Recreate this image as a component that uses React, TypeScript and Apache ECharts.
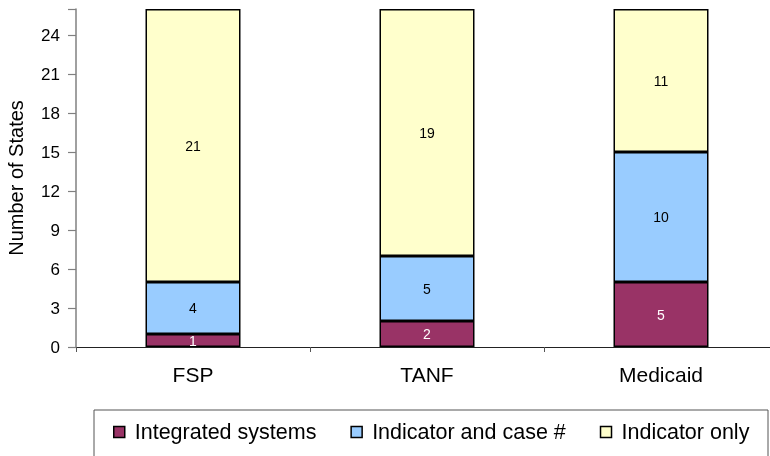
import React, { useEffect, useRef } from "react";
import * as echarts from "echarts";

const categories = ["FSP", "TANF", "Medicaid"];
const integratedSystems = [1, 2, 5];
const indicatorAndCase = [4, 5, 10];
const indicatorOnly = [21, 19, 11];
const yTicks = [0, 3, 6, 9, 12, 15, 18, 21, 24];
const seriesNames = ["Integrated systems", "Indicator and case #", "Indicator only"];

const FONT = "'Liberation Sans', Arial, sans-serif";

export default function App() {
  const ref = useRef<HTMLDivElement>(null);
  useEffect(() => {
    if (!ref.current) return;
    const chart = echarts.init(ref.current, null, { renderer: "svg" });
    const mk = (name: string, data: number[], color: string, labelColor: string) => ({
      name,
      type: "bar",
      stack: "total",
      data,
      barWidth: 95,
      itemStyle: { color, borderColor: "#000", borderWidth: 1.5 },
      label: {
        show: true,
        position: "inside",
        color: labelColor,
        fontSize: 14,
        fontFamily: FONT,
      },
    });
    chart.setOption({
      animation: false,
      textStyle: { fontFamily: FONT },
      grid: { left: 76, top: 9, height: 338, width: 702, containLabel: false, outerBoundsMode: "none" },
      xAxis: {
        type: "category",
        data: categories,
        axisLine: { lineStyle: { color: "#222", width: 1.2 } },
        axisTick: { show: true, length: 5, alignWithLabel: false, lineStyle: { color: "#555" } },
        axisLabel: { color: "#000", fontSize: 21, margin: 17, fontFamily: FONT },
      },
      yAxis: {
        type: "value",
        min: 0,
        max: 26,
        interval: 3,
        name: "Number of States",
        nameLocation: "middle",
        nameGap: 50,
        nameRotate: 90,
        nameTextStyle: { fontSize: 20, color: "#000", fontFamily: FONT },
        splitLine: { show: false },
        axisLine: { show: true, lineStyle: { color: "#808080", width: 1.5 } },
        axisTick: { show: true, length: 8, inside: false, lineStyle: { color: "#808080", width: 1.2 } },
        axisLabel: { color: "#000", fontSize: 17, margin: 16, customValues: yTicks, fontFamily: FONT },
      },
      legend: {
        data: seriesNames,
        left: 113,
        top: 421,
        padding: 0,
        icon: "rect",
        itemWidth: 11,
        itemHeight: 11,
        itemGap: 34,
        itemStyle: { borderColor: "#000", borderWidth: 1.5 },
        textStyle: { fontSize: 21.5, color: "#000", fontFamily: FONT, padding: [0, 0, 0, 5] },
      },
      graphic: [
        {
          type: "rect",
          shape: { x: 94, y: 410, width: 674, height: 70 },
          style: { fill: "none", stroke: "#555", lineWidth: 1 },
          silent: true,
        },
      ],
      series: [
        mk(seriesNames[0], integratedSystems, "#993366", "#fff"),
        mk(seriesNames[1], indicatorAndCase, "#99CCFF", "#000"),
        mk(seriesNames[2], indicatorOnly, "#FFFFCC", "#000"),
      ],
    });
    return () => chart.dispose();
  }, []);
  return <div ref={ref} style={{ width: 770, height: 456, position: "fixed", left: 0, top: 0 }} />;
}
